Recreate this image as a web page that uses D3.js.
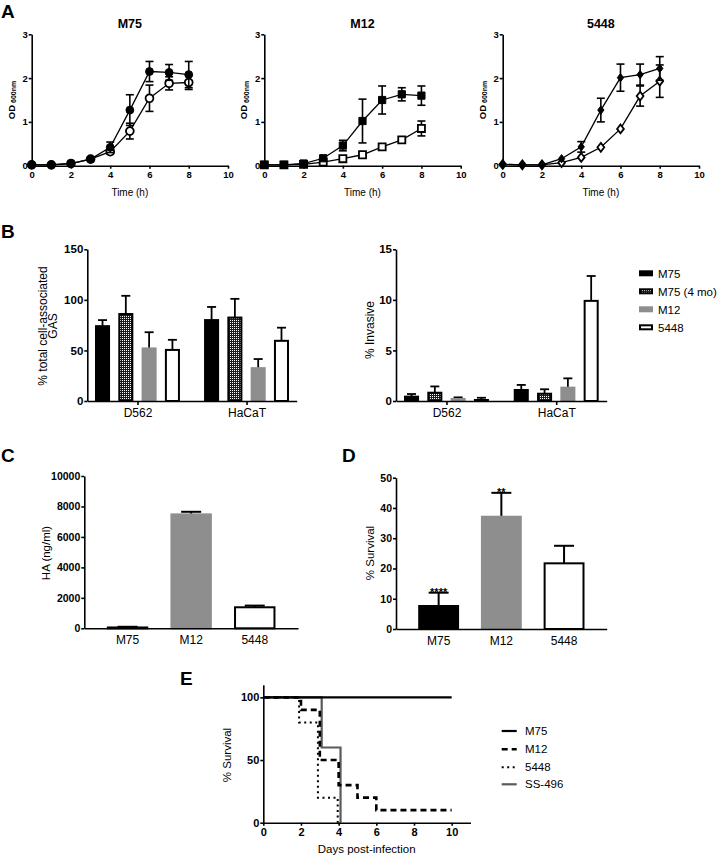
<!DOCTYPE html>
<html><head><meta charset="utf-8">
<script src="https://cdn.jsdelivr.net/npm/d3@7"></script>
<style>body{margin:0;background:#fff} svg{display:block;background:#fff}</style>
</head><body><svg id="fig" width="720" height="858"></svg>
<script>
// ---------------- DATA ----------------
// Panel A: growth curves (OD600 vs time)
const timeHours = [0,1,2,3,4,5,6,7,8];
const timeTicks = [0,2,4,6,8,10];
const odTicks = [0,1,2,3];
const m75Solid = [0.02,0.02,0.05,0.15,0.42,1.27,2.15,2.13,2.08];
const m75SolidErr = [0,0,0,0,0.12,0.35,0.23,0.18,0.3];
const m75Open = [0.02,0.02,0.05,0.15,0.32,0.79,1.54,1.88,1.9];
const m75OpenErr = [0,0,0,0,0.05,0.18,0.3,0.15,0.16];
const m12Solid = [0.02,0.02,0.05,0.17,0.46,1.02,1.5,1.63,1.6];
const m12SolidErr = [0,0,0,0,0.12,0.5,0.32,0.15,0.22];
const m12Open = [0.02,0.02,0.03,0.08,0.16,0.25,0.43,0.59,0.85];
const m12OpenErr = [0,0,0,0,0,0,0,0,0.17];
const s5448Solid = [0.03,0.02,0.02,0.16,0.43,1.27,2.01,2.08,2.22];
const s5448SolidErr = [0,0,0,0,0.12,0.27,0.31,0.24,0.27];
const s5448Open = [0.03,0.02,0.02,0.07,0.19,0.42,0.84,1.59,1.93];
const s5448OpenErr = [0,0,0,0,0,0,0,0.23,0.37];

// Panel B: adherence / invasion
const cellLines = ["D562","HaCaT"];
const strainsB = ["M75","M75 (4 mo)","M12","5448"];
const assocD562 = [74,86,52,50.5];
const assocD562Err = [6,18,16,10];
const assocHaCaT = [80,82.5,32.5,59.5];
const assocHaCaTErr = [13,18.5,9,13];
const assocTicks = [0,50,100,150];
const invD562 = [0.43,0.82,0.2,0.1];
const invD562Err = [0.26,0.62,0.16,0.22];
const invHaCaT = [1.09,0.72,1.32,9.9];
const invHaCaTErr = [0.5,0.44,0.92,2.46];
const invTicks = [0,5,10,15];

// Panel C: hyaluronic acid
const strainsCD = ["M75","M12","5448"];
const haValues = [55,7480,1380];
const haErr = [45,170,110];
const haTicks = [0,2000,4000,6000,8000,10000];

// Panel D: % survival in blood
const survivalValues = [7.6,37.1,21.7];
const survivalErr = [4.4,7.9,5.8];
const survivalSig = ["****","**",""];
const survivalTicks = [0,10,20,30,40,50];

// Panel E: Kaplan-Meier
const kmNames = ["M75","M12","5448","SS-496"];
const kmDaysM75 = [0,10];           const kmM75 = [100,100];
const kmDaysM12 = [0,2,3,4,5,6,10]; const kmM12 = [100,90,50,30,20,10,10];
const kmDays5448 = [0,1.9,2.9,3.95]; const km5448 = [100,80,20,0];
const kmDaysSS = [0,3.1,4.1];       const kmSS = [100,60,0];
const kmDayTicks = [0,2,4,6,8,10];
const kmPctTicks = [0,50,100];

// ---------------- DRAWING ----------------
const FONT = '"Liberation Sans", Arial, Helvetica, sans-serif';
const fmt = d3.format('d');
const svg = d3.select('#fig');
svg.append('rect').attr('width',720).attr('height',858).attr('fill','#fff');
const defs = svg.append('defs');
const pat = defs.append('pattern').attr('id','checker').attr('width',2).attr('height',2).attr('patternUnits','userSpaceOnUse');
pat.append('rect').attr('width',2).attr('height',2).attr('fill','#1c1c1c');
pat.append('rect').attr('width',1).attr('height',1).attr('fill','#ffffff');

const GRAY = '#8e8e8e';
const barFills = ['#000','url(#checker)',GRAY,'#fff'];
const barStrokes = ['#000','#000',GRAY,'#000'];

function styleAxis(g, fs, bold){
  g.select('.domain').attr('stroke','#000').attr('stroke-width',1.6);
  g.selectAll('.tick line').attr('stroke','#000').attr('stroke-width',1.6);
  g.selectAll('.tick text').attr('fill','#000')
    .style('font-size',fs+'px').style('font-weight',bold?'bold':'normal').style('font-family',FONT);
}
function txt(x,y,s,opt={}){
  const t = svg.append('text').text(s)
    .style('font-family',FONT).style('font-size',(opt.size||12)+'px')
    .style('font-weight',opt.bold?'bold':'normal').attr('fill',opt.fill||'#000')
    .attr('text-anchor',opt.anchor||'start');
  if(opt.rotate) t.attr('x',0).attr('y',0).attr('transform',`translate(${x},${y}) rotate(-90)`);
  else t.attr('x',x).attr('y',y);
  return t;
}

// Panel letters
txt(1,18,'A',{size:19,bold:true});
txt(1,238,'B',{size:19,bold:true});
txt(1,462,'C',{size:19,bold:true});
txt(342,462,'D',{size:19,bold:true});
txt(180,685,'E',{size:19,bold:true});

const diamond = {draw(ctx,size){const r=Math.sqrt(size)/2;ctx.moveTo(0,-r*1.3);ctx.lineTo(r,0);ctx.lineTo(0,r*1.3);ctx.lineTo(-r,0);ctx.closePath();}};

function growthPanel(p){
  const x = d3.scaleLinear().domain([0,10]).range([p.x0,p.x1]);
  const y = d3.scaleLinear().domain([0,3]).range([p.yb,p.yt]);
  const g = svg.append('g');
  const ax = g.append('g').attr('transform',`translate(0,${p.yb})`)
    .call(d3.axisBottom(x).tickValues(timeTicks).tickFormat(fmt).tickSize(3).tickSizeOuter(0).tickPadding(3));
  styleAxis(ax,9.5,true);
  const ay = g.append('g').attr('transform',`translate(${p.x0},0)`)
    .call(d3.axisLeft(y).tickValues(odTicks).tickFormat(fmt).tickSize(3).tickSizeOuter(0).tickPadding(1));
  styleAxis(ay,9.5,true);
  const cx = (p.x0+p.x1)/2;
  txt(cx,28,p.title,{size:12.5,bold:true,anchor:'middle'});
  txt(cx,196,'Time (h)',{size:10,anchor:'middle'});
  const lab = svg.append('text').attr('transform',`translate(${p.x0-17},100) rotate(-90)`)
    .attr('text-anchor','middle').style('font-family',FONT).style('font-weight','bold').attr('fill','#000');
  lab.append('tspan').text('OD').style('font-size','9.5px');
  lab.append('tspan').text(' 600nm').style('font-size','7px').attr('dy',1.5);

  p.series.forEach(s=>{
    const pts = timeHours.map((t,i)=>({t,v:s.values[i],e:s.errs[i]}));
    g.append('path').datum(pts).attr('fill','none').attr('stroke','#000').attr('stroke-width',1.3)
      .attr('d',d3.line().x(d=>x(d.t)).y(d=>y(d.v)));
    const eb = g.append('g').attr('stroke','#000').attr('stroke-width',1.6);
    pts.filter(d=>d.e>0).forEach(d=>{
      const X=x(d.t), y1=y(d.v+d.e), y2=y(d.v-d.e);
      eb.append('line').attr('x1',X).attr('x2',X).attr('y1',y1).attr('y2',y2);
      eb.append('line').attr('x1',X-4).attr('x2',X+4).attr('y1',y1).attr('y2',y1);
      eb.append('line').attr('x1',X-4).attr('x2',X+4).attr('y1',y2).attr('y2',y2);
    });
    g.selectAll(null).data(pts).enter().append('path')
      .attr('transform',d=>`translate(${x(d.t)},${y(d.v)})`)
      .attr('d',d3.symbol().type(s.symbol).size(s.size))
      .attr('fill',s.filled?'#000':'#fff').attr('stroke','#000').attr('stroke-width',s.filled?1:1.8);
  });
}

growthPanel({x0:31.7,x1:228,yb:165.7,yt:34.3,title:'M75',series:[
  {values:m75Open,errs:m75OpenErr,symbol:d3.symbolCircle,size:48,filled:false},
  {values:m75Solid,errs:m75SolidErr,symbol:d3.symbolCircle,size:48,filled:true}]});
growthPanel({x0:264.3,x1:460.7,yb:165.7,yt:34.3,title:'M12',series:[
  {values:m12Open,errs:m12OpenErr,symbol:d3.symbolSquare,size:50,filled:false},
  {values:m12Solid,errs:m12SolidErr,symbol:d3.symbolSquare,size:52,filled:true}]});
growthPanel({x0:502.7,x1:699,yb:165.7,yt:34.3,title:'5448',series:[
  {values:s5448Open,errs:s5448OpenErr,symbol:diamond,size:46,filled:false},
  {values:s5448Solid,errs:s5448SolidErr,symbol:diamond,size:40,filled:true}]});

// ---- Panel B ----
function groupedBars(p){
  const y = d3.scaleLinear().domain([0,p.ymax]).range([p.yb,p.yt]);
  const gx = d3.scalePoint().domain(cellLines).range([p.x0,p.x1]).padding(0.46);
  const sx = d3.scaleBand().domain(strainsB).range([-46.6,46.6]).paddingInner(0.44).paddingOuter(0.22);
  const g = svg.append('g');
  const rows = [];
  cellLines.forEach((c,ci)=>strainsB.forEach((s,si)=>rows.push({c,s,si,v:p.vals[ci][si],e:p.errs[ci][si]})));
  const eb = g.append('g').attr('stroke','#000').attr('stroke-width',1.8);
  rows.forEach(d=>{
    const X = gx(d.c)+sx(d.s)+sx.bandwidth()/2, yt=y(d.v+d.e);
    eb.append('line').attr('x1',X).attr('x2',X).attr('y1',y(d.v)).attr('y2',yt);
    eb.append('line').attr('x1',X-4.5).attr('x2',X+4.5).attr('y1',yt).attr('y2',yt);
  });
  g.selectAll(null).data(rows).enter().append('rect')
    .attr('x',d=>gx(d.c)+sx(d.s)).attr('width',sx.bandwidth())
    .attr('y',d=>y(d.v)).attr('height',d=>p.yb-y(d.v))
    .attr('fill',d=>barFills[d.si]).attr('stroke',d=>barStrokes[d.si]).attr('stroke-width',2);
  const ax = g.append('g').attr('transform',`translate(0,${p.yb})`)
    .call(d3.axisBottom(gx).tickSize(4).tickSizeOuter(0).tickPadding(3));
  styleAxis(ax,12,false);
  const ay = g.append('g').attr('transform',`translate(${p.x0},0)`)
    .call(d3.axisLeft(y).tickValues(p.ticks).tickFormat(fmt).tickSize(3).tickSizeOuter(0).tickPadding(1));
  styleAxis(ay,11.5,true);
}
groupedBars({x0:87.3,x1:296.7,yb:401,yt:249.3,ymax:150,ticks:assocTicks,
  vals:[assocD562,assocHaCaT],errs:[assocD562Err,assocHaCaTErr]});
groupedBars({x0:396,x1:606.7,yb:401,yt:249.3,ymax:15,ticks:invTicks,
  vals:[invD562,invHaCaT],errs:[invD562Err,invHaCaTErr]});
txt(47,326,'% total cell-associated',{size:12,anchor:'middle',rotate:true});
txt(57,326,'GAS',{size:12,anchor:'middle',rotate:true});
txt(374,330,'% Invasive',{size:12,anchor:'middle',rotate:true});
// legend B
strainsB.forEach((s,i)=>{
  const cy = 273.3 + i*18;
  svg.append('rect').attr('x',640).attr('y',cy-2).attr('width',12).attr('height',4)
    .attr('fill',barFills[i]).attr('stroke',barStrokes[i]).attr('stroke-width',2);
  txt(658,cy+4.2,s,{size:11.5});
});

// ---- Panels C & D ----
function simpleBars(p){
  const y = d3.scaleLinear().domain([0,p.ymax]).range([p.yb,p.yt]);
  const x = d3.scaleBand().domain(strainsCD).range([p.x0,p.x1]).paddingInner(0.38).paddingOuter(0.37);
  const g = svg.append('g');
  const rows = strainsCD.map((s,i)=>({s,i,v:p.vals[i],e:p.errs[i],sig:p.sig?p.sig[i]:''}));
  const eb = g.append('g').attr('stroke','#000').attr('stroke-width',2);
  rows.forEach(d=>{
    const X = x(d.s)+x.bandwidth()/2, yt=y(d.v+d.e);
    eb.append('line').attr('x1',X).attr('x2',X).attr('y1',y(d.v)).attr('y2',yt);
    eb.append('line').attr('x1',X-10).attr('x2',X+10).attr('y1',yt).attr('y2',yt);
    if(d.sig) txt(X,yt+3.5,d.sig,{size:11,bold:true,anchor:'middle'});
  });
  g.selectAll(null).data(rows).enter().append('rect')
    .attr('x',d=>x(d.s)).attr('width',x.bandwidth())
    .attr('y',d=>y(d.v)).attr('height',d=>p.yb-y(d.v))
    .attr('fill',d=>[ '#000',GRAY,'#fff'][d.i]).attr('stroke',d=>['#000',GRAY,'#000'][d.i]).attr('stroke-width',2);
  const ax = g.append('g').attr('transform',`translate(0,${p.yb})`)
    .call(d3.axisBottom(x).tickSize(0).tickSizeOuter(0).tickPadding(7));
  styleAxis(ax,12,false);
  const ay = g.append('g').attr('transform',`translate(${p.x0},0)`)
    .call(d3.axisLeft(y).tickValues(p.ticks).tickFormat(fmt).tickSize(3).tickSizeOuter(0).tickPadding(1));
  styleAxis(ay,10.5,true);
}
simpleBars({x0:84.3,x1:298,yb:628.3,yt:476,ymax:10000,ticks:haTicks,vals:haValues,errs:haErr});
simpleBars({x0:396,x1:606.7,yb:629,yt:477.7,ymax:50,ticks:survivalTicks,vals:survivalValues,errs:survivalErr,sig:survivalSig});
txt(50,553,'HA (ng/ml)',{size:11.5,anchor:'middle',rotate:true});
txt(374,553,'% Survival',{size:11.5,anchor:'middle',rotate:true});

// ---- Panel E ----
(function(){
  const x = d3.scaleLinear().domain([0,11]).range([263.3,470.5]);
  const y = d3.scaleLinear().domain([0,110]).range([822.7,684.8]);
  const g = svg.append('g');
  const styles = [
    {stroke:'#000',w:2.2,dash:null},
    {stroke:'#000',w:2.6,dash:'6,4'},
    {stroke:'#000',w:2,dash:'2,3.5'},
    {stroke:'#5a5a5a',w:2.2,dash:null}];
  const curves = [[kmDaysM75,kmM75],[kmDaysM12,kmM12],[kmDays5448,km5448],[kmDaysSS,kmSS]];
  const line = d3.line().curve(d3.curveStepAfter).x(d=>x(d[0])).y(d=>y(d[1]));
  [3,0,1,2].forEach(i=>{
    const pts = curves[i][0].map((d,j)=>[d,curves[i][1][j]]);
    g.append('path').datum(pts).attr('d',line).attr('fill','none')
      .attr('stroke',styles[i].stroke).attr('stroke-width',styles[i].w)
      .attr('stroke-dasharray',styles[i].dash);
  });
  const ax = g.append('g').attr('transform','translate(0,822.7)')
    .call(d3.axisBottom(x).tickValues(kmDayTicks).tickFormat(fmt).tickSize(3).tickSizeOuter(0).tickPadding(3));
  styleAxis(ax,11,true);
  const ay = g.append('g').attr('transform','translate(263.3,0)')
    .call(d3.axisLeft(y).tickValues(kmPctTicks).tickFormat(fmt).tickSize(3).tickSizeOuter(0).tickPadding(1));
  styleAxis(ay,11,true);
  txt(366.7,853,'Days post-infection',{size:11.5,anchor:'middle'});
  txt(231,755,'% Survival',{size:11.5,anchor:'middle',rotate:true});
  kmNames.forEach((n,i)=>{
    const cy = [731,749.3,767.3,784.3][i];
    g.append('line').attr('x1',501.7).attr('x2',516.7).attr('y1',cy).attr('y2',cy)
      .attr('stroke',styles[i].stroke).attr('stroke-width',styles[i].w).attr('stroke-dasharray',styles[i].dash);
    txt(525,cy+4,n,{size:11.5});
  });
})();
</script>
</body></html>
